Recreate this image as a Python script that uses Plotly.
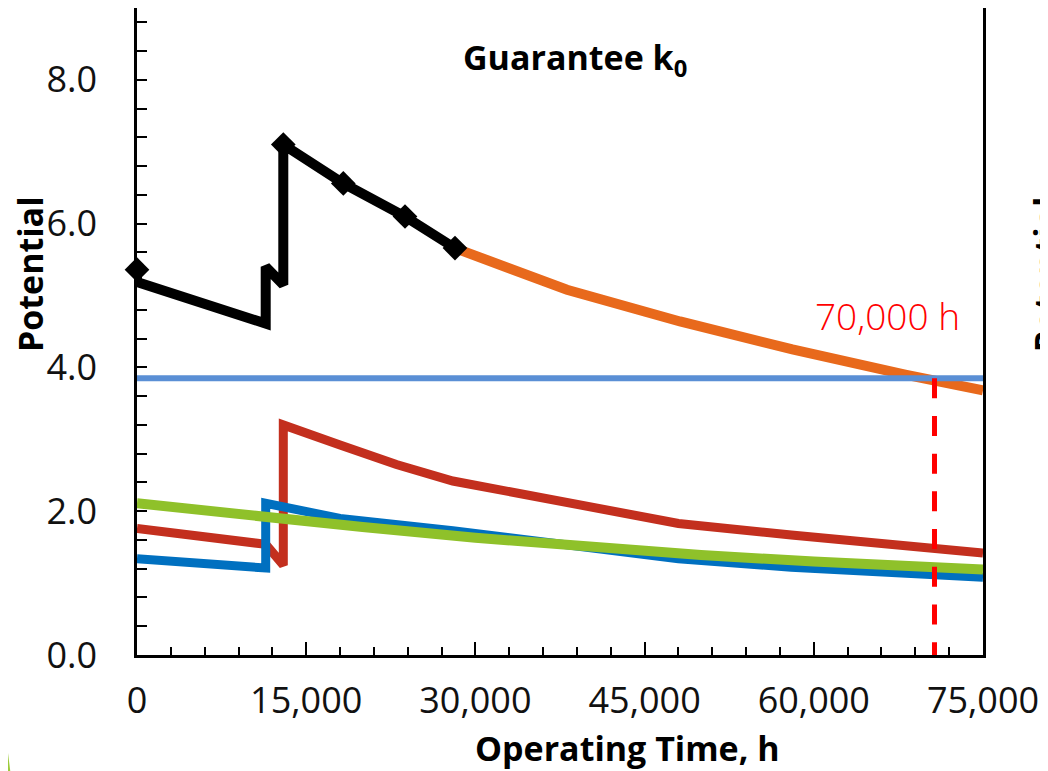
import plotly.graph_objects as go

# ---------------- data ----------------
black_h = [0, 0, 11410, 11410, 12970, 12970, 18290, 23760, 28190]
black_p = [5.36, 5.19, 4.61, 5.40, 5.15, 7.10, 6.56, 6.10, 5.66]
marker_h = [0, 12970, 18290, 23760, 28190]
marker_p = [5.36, 7.10, 6.56, 6.10, 5.66]

orange_h = [28190, 38120, 48140, 58100, 68100, 75000]
orange_p = [5.66, 5.08, 4.64, 4.25, 3.90, 3.68]

red_h = [0, 11410, 12970, 12970, 18000, 23000, 28000, 38000, 48000, 58000, 68000, 75000]
red_p = [1.76, 1.54, 1.25, 3.20, 2.92, 2.65, 2.42, 2.13, 1.83, 1.67, 1.51, 1.42]

blue_h = [0, 11410, 11410, 18000, 28000, 38000, 48000, 58000, 68000, 75000]
blue_p = [1.34, 1.21, 2.11, 1.90, 1.73, 1.52, 1.34, 1.22, 1.13, 1.08]

green_h = [0, 10000, 20000, 30000, 40000, 50000, 60000, 70000, 75000]
green_p = [2.11, 1.93, 1.78, 1.63, 1.50, 1.39, 1.30, 1.22, 1.19]

limit_h = [0, 75000]
limit_p = [3.85, 3.85]

life_h = 70700
life_label = "70,000 h"

x_ticks = [0, 15000, 30000, 45000, 60000, 75000]
y_ticks = [0, 2, 4, 6, 8]

# ---------------- figure ----------------
FONT = "Open Sans"
fig = go.Figure()

fig.add_trace(go.Scatter(x=orange_h, y=orange_p, mode="lines",
                         line=dict(color="#E8691C", width=10), showlegend=False))
fig.add_trace(go.Scatter(x=limit_h, y=limit_p, mode="lines",
                         line=dict(color="#5A8FD5", width=6), showlegend=False))
fig.add_trace(go.Scatter(x=red_h, y=red_p, mode="lines",
                         line=dict(color="#C32F1E", width=9), showlegend=False))
fig.add_trace(go.Scatter(x=blue_h, y=blue_p, mode="lines",
                         line=dict(color="#0070C0", width=9), showlegend=False))
fig.add_trace(go.Scatter(x=green_h, y=green_p, mode="lines",
                         line=dict(color="#8FC12A", width=10), showlegend=False))
fig.add_trace(go.Scatter(x=black_h, y=black_p, mode="lines",
                         line=dict(color="#000000", width=10), showlegend=False))
fig.add_trace(go.Scatter(x=marker_h, y=marker_p, mode="markers", cliponaxis=False,
                         marker=dict(symbol="diamond", size=19, color="#000000"),
                         showlegend=False))

# red dashed vertical at end of life
fig.add_shape(type="line", xref="x", yref="y", x0=life_h, x1=life_h,
              y0=limit_p[0], y1=0,
              line=dict(color="#FF0000", width=5, dash="20px,17.7px"))

fig.add_annotation(x=66489, y=4.72, xref="x", yref="y", text=life_label,
                   showarrow=False, xanchor="center", yanchor="middle",
                   font=dict(family=FONT, size=37, color="#FF0000", weight=300))

fig.add_annotation(x=0.5177, y=0.921, xref="paper", yref="paper",
                   text="<b>Guarantee k<sub>0</sub></b>", showarrow=False,
                   xanchor="center", yanchor="middle",
                   font=dict(family=FONT, size=34, color="#000000"))

fig.add_annotation(x=-0.127, y=0.588, xref="paper", yref="paper",
                   text="<b>Potential</b>", showarrow=False, textangle=-90,
                   xanchor="center", yanchor="middle",
                   font=dict(family=FONT, size=34, color="#000000"))

fig.add_annotation(x=0.580, y=-0.1437, xref="paper", yref="paper",
                   text="<b>Operating Time, h</b>", showarrow=False,
                   xanchor="center", yanchor="middle",
                   font=dict(family=FONT, size=34, color="#000000"))

# neighbouring (cropped) chart label at the right edge
fig.add_annotation(x=1.074, y=0.588, xref="paper", yref="paper",
                   text="<b>Potential</b>", showarrow=False, textangle=-90,
                   xanchor="center", yanchor="middle",
                   font=dict(family=FONT, size=34, color="#000000"))

# slide decoration in the lower-left corner
fig.add_shape(type="path", xref="paper", yref="paper",
              path="M -0.1619 -0.054 L -0.1478 -0.20 L -0.1619 -0.20 Z",
              fillcolor="#9DCB3B", line=dict(width=0), layer="above")

fig.update_layout(
    width=1040, height=763,
    margin=dict(l=129, r=65, t=0, b=116, autoexpand=False),
    paper_bgcolor="white", plot_bgcolor="white",
    font=dict(family=FONT, size=36, color="#111111"),
)

fig.update_xaxes(range=[0, 75000], tickvals=x_ticks, tickformat=",",
                 automargin=False,
                 showgrid=False, zeroline=False,
                 showline=True, linecolor="black", linewidth=2.5, mirror=True,
                 ticks="inside", ticklen=13, tickwidth=2, tickcolor="black",
                 ticklabelstandoff=12,
                 minor=dict(dtick=3000, ticks="inside", ticklen=8,
                            tickwidth=2, tickcolor="black", showgrid=False),
                 tickfont=dict(family=FONT, size=36, color="#111111"))

fig.update_yaxes(range=[0, 9.0], tickvals=y_ticks, tickformat=".1f",
                 automargin=False,
                 showgrid=False, zeroline=False,
                 showline=True, linecolor="black", linewidth=2.5, mirror=True,
                 ticks="inside", ticklen=10, tickwidth=2, tickcolor="black",
                 ticklabelstandoff=30,
                 minor=dict(dtick=0.4, ticks="inside", ticklen=10,
                            tickwidth=2, tickcolor="black", showgrid=False),
                 tickfont=dict(family=FONT, size=36, color="#111111"))

fig.write_html("out.html")
